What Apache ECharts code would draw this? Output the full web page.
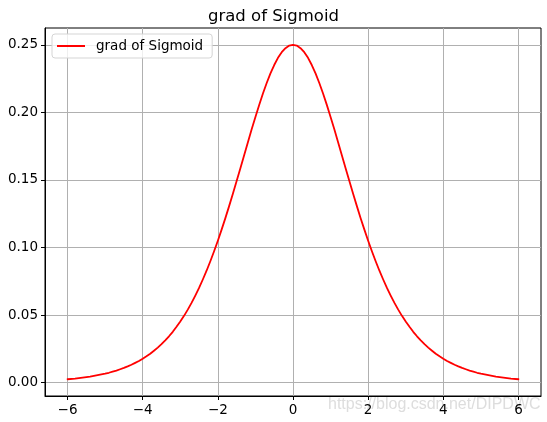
<!DOCTYPE html>
<html>
<head>
<meta charset="utf-8">
<script src="https://cdn.jsdelivr.net/npm/echarts@6/dist/echarts.min.js"></script>
<style>html,body{margin:0;padding:0;background:#fff;}#c{width:547px;height:422px;}</style>
</head>
<body>
<div id="c"></div>
<script>
const xValues = [-6,-5.8,-5.6,-5.4,-5.2,
  -5,-4.9,-4.8,-4.7,-4.6,-4.5,-4.4,-4.3,-4.2,-4.1,-4,-3.9,-3.8,-3.7,-3.6,-3.5,-3.4,-3.3,-3.2,-3.1,
  -3,-2.9,-2.8,-2.7,-2.6,-2.5,-2.4,-2.3,-2.2,-2.1,-2,-1.9,-1.8,-1.7,-1.6,-1.5,-1.4,-1.3,-1.2,-1.1,
  -1,-0.9,-0.8,-0.7,-0.6,-0.5,-0.4,-0.3,-0.2,-0.1,0,
  0.1,0.2,0.3,0.4,0.5,0.6,0.7,0.8,0.9,1,1.1,1.2,1.3,1.4,1.5,1.6,1.7,1.8,1.9,2,
  2.1,2.2,2.3,2.4,2.5,2.6,2.7,2.8,2.9,3,3.1,3.2,3.3,3.4,3.5,3.6,3.7,3.8,3.9,4,
  4.1,4.2,4.3,4.4,4.5,4.6,4.7,4.8,4.9,5,5.2,5.4,5.6,5.8,6];
const gradValues = [0.0025,0.0030,0.0037,0.0045,0.0055,
  0.0066,0.0073,0.0081,0.0089,0.0099,0.0109,0.0120,0.0132,0.0146,0.0160,0.0177,0.0195,0.0214,0.0236,0.0259,0.0285,0.0313,0.0343,0.0376,0.0413,
  0.0452,0.0494,0.0540,0.0590,0.0644,0.0701,0.0763,0.0828,0.0898,0.0972,0.1050,0.1132,0.1217,0.1306,0.1398,0.1492,0.1587,0.1683,0.1779,0.1874,
  0.1966,0.2055,0.2139,0.2217,0.2288,0.2350,0.2403,0.2445,0.2475,0.2494,0.2500,
  0.2494,0.2475,0.2445,0.2403,0.2350,0.2288,0.2217,0.2139,0.2055,0.1966,0.1874,0.1779,0.1683,0.1587,0.1492,0.1398,0.1306,0.1217,0.1132,0.1050,
  0.0972,0.0898,0.0828,0.0763,0.0701,0.0644,0.0590,0.0540,0.0494,0.0452,0.0413,0.0376,0.0343,0.0313,0.0285,0.0259,0.0236,0.0214,0.0195,0.0177,
  0.0160,0.0146,0.0132,0.0120,0.0109,0.0099,0.0089,0.0081,0.0073,0.0066,0.0055,0.0045,0.0037,0.0030,0.0025];
const xTicks = [-6,-4,-2,0,2,4,6];
const yTicks = [0,0.05,0.10,0.15,0.20,0.25];
const seriesName = 'grad of Sigmoid';

const FONT = 'DejaVu Sans';
const chart = echarts.init(document.getElementById('c'));
chart.setOption({
  animation: false,
  backgroundColor: '#fff',
  title: {
    text: seriesName, left: 'center', top: 3,
    textStyle: {fontFamily: FONT, fontSize: 16.5, fontWeight: 'normal', color: '#000'}
  },
  legend: {
    left: 52, top: 34, padding: [5, 9, 5, 5],
    itemWidth: 28, itemHeight: 2, icon: 'rect',
    borderColor: '#d5d5d5', borderWidth: 1, borderRadius: 3,
    backgroundColor: 'rgba(255,255,255,0.8)',
    textStyle: {fontFamily: FONT, fontSize: 13.5, color: '#000', padding: [0, 0, 0, 6]},
    data: [seriesName]
  },
  grid: {left: 45, right: 6, top: 28, bottom: 26, show: true, borderColor: '#000', borderWidth: 1, backgroundColor: '#fff', containLabel: false},
  xAxis: {
    type: 'value', min: -6.6, max: 6.6,
    axisLine: {show: true, onZero: false, lineStyle: {color: '#000', width: 1}},
    axisTick: {show: true, inside: false, length: 4, lineStyle: {color: '#000'}, customValues: xTicks},
    axisLabel: {customValues: xTicks, fontFamily: FONT, fontSize: 13.5, color: '#000', margin: 7,
      formatter: v => String(v).replace('-', '\u2212')},
    splitLine: {show: true, lineStyle: {color: '#b0b0b0', width: 1}}
  },
  yAxis: {
    type: 'value', min: -0.0099, max: 0.2624,
    axisLine: {show: true, onZero: false, lineStyle: {color: '#000', width: 1}},
    axisTick: {show: true, inside: false, length: 4, lineStyle: {color: '#000'}, customValues: yTicks},
    axisLabel: {customValues: yTicks, fontFamily: FONT, fontSize: 13.5, color: '#000', margin: 7,
      formatter: v => v.toFixed(2)},
    splitLine: {show: true, lineStyle: {color: '#b0b0b0', width: 1}}
  },
  series: [{
    name: seriesName, type: 'line', smooth: false, showSymbol: false, symbol: 'none',
    data: xValues.map((x, i) => [x, gradValues[i]]),
    lineStyle: {color: '#ff0000', width: 1.8, join: 'round', cap: 'round'}, itemStyle: {color: '#ff0000'}
  }],
  graphic: [{
    type: 'text', left: 328, top: 397, silent: true,
    style: {text: 'https://blog.csdn.net/DIPDWC', fontFamily: 'Liberation Sans', fontSize: 16, fill: 'rgba(215,215,215,0.85)'}
  }]
});
</script>
</body>
</html>
